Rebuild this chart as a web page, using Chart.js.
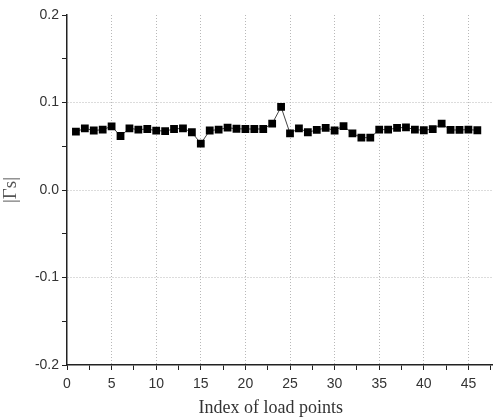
<!DOCTYPE html>
<html>
<head>
<meta charset="utf-8">
<script src="https://cdn.jsdelivr.net/npm/chart.js@4.4.0/dist/chart.umd.min.js"></script>
<style>
  html, body { margin: 0; padding: 0; background: #fff; }
  #wrap { width: 498px; height: 419px; position: relative; }
</style>
</head>
<body>
<div id="wrap"><canvas id="myChart" width="498" height="419"></canvas></div>
<script>
// index of load points 1..46
var loadIndex = [];
for (var i = 1; i <= 46; i++) loadIndex.push(i);
// |Γs|
var gammaS = [
  0.0666, 0.0705, 0.0680, 0.0690, 0.0728, 0.0617, 0.0705, 0.0690, 0.0697, 0.0678,
  0.0674, 0.0697, 0.0705, 0.0660, 0.0530, 0.0680, 0.0690, 0.0712, 0.0700, 0.0697,
  0.0697, 0.0697, 0.0758, 0.0949, 0.0648, 0.0705, 0.0660, 0.0686, 0.0709, 0.0680,
  0.0731, 0.0648, 0.0598, 0.0598, 0.0690, 0.0690, 0.0709, 0.0716, 0.0690, 0.0683,
  0.0695, 0.0758, 0.0686, 0.0686, 0.0690, 0.0683
];
var xMajor = [0, 5, 10, 15, 20, 25, 30, 35, 40, 45];
var yMajor = [-0.2, -0.1, 0.0, 0.1, 0.2];

var pts = [];
for (var k = 0; k < loadIndex.length; k++) pts.push({x: loadIndex[k], y: gammaS[k]});

function isMajor(v, list) {
  for (var j = 0; j < list.length; j++) if (Math.abs(v - list[j]) < 1e-6) return true;
  return false;
}

var ctx = document.getElementById('myChart').getContext('2d');
var myChart = new Chart(ctx, {
  type: 'line',
  data: {
    datasets: [{
      label: '|Γs|',
      data: pts,
      borderColor: '#444',
      borderWidth: 1,
      backgroundColor: '#000',
      pointStyle: 'rect',
      pointRadius: 5.5,
      pointBorderWidth: 0,
      pointBackgroundColor: '#000',
      tension: 0
    }]
  },
  options: {
    responsive: false,
    animation: false,
    layout: { padding: { top: 15, right: 0, left: 0, bottom: 0 } },
    plugins: { legend: { display: false }, tooltip: { enabled: false } },
    scales: {
      x: {
        type: 'linear',
        min: 0,
        max: 47.7,
        afterBuildTicks: function (axis) {
          var t = [];
          for (var v = 0; v <= 47.5; v += 2.5) t.push({value: v});
          axis.ticks = t;
        },
        afterFit: function (axis) { axis.height = 54; },
        ticks: {
          color: '#333',
          font: { family: 'Liberation Sans', size: 14 },
          padding: 6,
          maxRotation: 0,
          autoSkip: false,
          callback: function (v) { return isMajor(v, xMajor) ? String(v) : ''; }
        },
        grid: {
          color: function (c) {
            var v = c.tick ? c.tick.value : null;
            return (v !== null && v > 0 && isMajor(v, xMajor)) ? '#b8b8b8' : 'rgba(0,0,0,0)';
          },
          tickColor: '#222',
          tickLength: 5,
          lineWidth: 1
        },
        border: { display: true, color: '#222', width: 1.5, dash: [1, 2] },
        title: {
          display: true,
          text: 'Index of load points    ',
          color: '#333',
          font: { family: 'Liberation Serif', size: 18 },
          padding: { top: 0, bottom: 0 }
        }
      },
      y: {
        type: 'linear',
        min: -0.2,
        max: 0.2,
        afterBuildTicks: function (axis) {
          var t = [];
          for (var n = -4; n <= 4; n++) t.push({value: n * 0.05});
          axis.ticks = t;
        },
        afterFit: function (axis) { axis.width = 67; },
        ticks: {
          color: '#333',
          font: { family: 'Liberation Sans', size: 14 },
          padding: 3,
          autoSkip: false,
          callback: function (v) { return isMajor(v, yMajor) ? v.toFixed(1) : ''; }
        },
        grid: {
          color: function (c) {
            var v = c.tick ? c.tick.value : null;
            return (v !== null && Math.abs(v) < 0.15 && isMajor(v, yMajor)) ? '#b8b8b8' : 'rgba(0,0,0,0)';
          },
          tickColor: '#222',
          tickLength: 5,
          lineWidth: 1
        },
        border: { display: true, color: '#222', width: 1.5, dash: [1, 2] },
        title: {
          display: true,
          text: '|Γs|',
          color: '#555',
          font: { family: 'Liberation Serif', size: 19 },
          padding: { top: 0, bottom: 2 }
        }
      }
    }
  }
});
</script>
</body>
</html>
